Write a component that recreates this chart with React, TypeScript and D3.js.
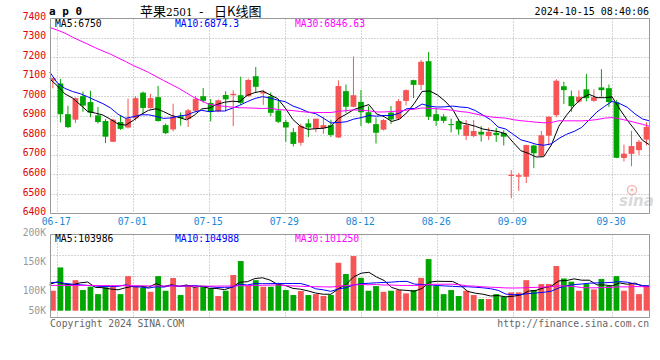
import React, { useEffect, useRef } from 'react';
import * as d3 from 'd3';

// trading days shown on the chart
const dates = [
  '06-14',
  '06-17', '06-18', '06-19', '06-20', '06-21',
  '06-24', '06-25', '06-26', '06-27', '06-28',
  '07-01', '07-02', '07-03', '07-04', '07-05',
  '07-08', '07-09', '07-10', '07-11', '07-12',
  '07-15', '07-16', '07-17', '07-18', '07-19',
  '07-22', '07-23', '07-24', '07-25', '07-26',
  '07-29', '07-30', '07-31', '08-01', '08-02',
  '08-05', '08-06', '08-07', '08-08', '08-09',
  '08-12', '08-13', '08-14', '08-15', '08-16',
  '08-19', '08-20', '08-21', '08-22', '08-23',
  '08-26', '08-27', '08-28', '08-29', '08-30',
  '09-02', '09-03', '09-04', '09-05', '09-06',
  '09-09', '09-10', '09-11', '09-12', '09-13',
  '09-18', '09-19', '09-20',
  '09-23', '09-24', '09-25', '09-26', '09-27',
  '09-30',
  '10-08', '10-09', '10-10', '10-11', '10-14',
];

const opens = [
  7080, 7065, 6908, 6880, 7000, 6970, 6902, 6873, 6767, 6868,
  6840, 6887, 7018, 6939, 6995, 6852, 6830, 6897, 6884, 6925,
  7000, 6965, 6922, 7006, 7005, 7005, 7000, 7102, 7014, 7000,
  6927, 6868, 6816, 6762, 6861, 6834, 6836, 6852, 6789, 7026,
  6946, 6971, 6918, 6857, 6829, 6916, 6885, 6976, 7082, 7058,
  7179, 6908, 6896, 6857, 6873, 6797, 6796, 6818, 6796, 6813,
  6812, 6592, 6588, 6588, 6748, 6694, 6798, 6903, 7051, 7000,
  6972, 7035, 6976, 7045, 7041, 6970, 6684, 6705, 6724, 6778,
];
const highs = [
  7095, 7088, 6951, 6994, 7024, 7028, 6945, 6883, 6885, 6900,
  6988, 6999, 7024, 7012, 7053, 6860, 6962, 6917, 6935, 7002,
  7042, 6985, 6983, 7025, 7030, 7100, 7090, 7149, 7033, 7019,
  6982, 6880, 6837, 6859, 6883, 6885, 6893, 6880, 7081, 7060,
  7203, 7031, 6948, 6891, 6883, 6950, 6985, 7035, 7084, 7186,
  7226, 6938, 6908, 6886, 6882, 6878, 6878, 6847, 6840, 6838,
  6826, 6622, 6608, 6752, 6752, 6822, 6897, 7087, 7074, 7029,
  7030, 7114, 7035, 7138, 7060, 6980, 6752, 6823, 6777, 6866,
];
const lows = [
  7040, 6866, 6837, 6863, 6920, 6893, 6860, 6760, 6765, 6828,
  6835, 6875, 6910, 6937, 6870, 6806, 6820, 6849, 6842, 6920,
  6968, 6871, 6918, 6922, 6847, 6956, 6998, 7016, 6956, 6897,
  6863, 6767, 6743, 6747, 6791, 6815, 6808, 6791, 6786, 6915,
  6944, 6847, 6860, 6758, 6825, 6858, 6880, 6953, 6990, 7031,
  6878, 6848, 6862, 6815, 6803, 6776, 6790, 6768, 6776, 6766,
  6748, 6478, 6516, 6556, 6632, 6690, 6748, 6893, 6960, 6920,
  6965, 6974, 6972, 6998, 6945, 6683, 6666, 6642, 6700, 6748,
];
const closes = [
  7092, 6908, 6842, 6990, 6952, 6916, 6868, 6793, 6880, 6833,
  6886, 6990, 6940, 6990, 6873, 6811, 6896, 6888, 6928, 6986,
  6976, 6920, 6979, 6984, 7012, 6966, 7083, 7048, 7024, 6915,
  6869, 6840, 6756, 6848, 6840, 6885, 6852, 6802, 7052, 6946,
  7005, 6918, 6864, 6813, 6878, 6881, 6975, 7031, 7058, 7176,
  6895, 6874, 6874, 6853, 6830, 6852, 6822, 6804, 6818, 6801,
  6793, 6598, 6596, 6750, 6708, 6800, 6895, 7079, 7031, 6949,
  6997, 6990, 6995, 7031, 6970, 6685, 6706, 6745, 6767, 6843,
];
const volumes = [
  95300, 135500, 103900, 113500, 96500, 102200, 89500, 101100, 102200, 89500,
  120500, 102200, 101100, 93500, 120500, 95300, 117200, 87900, 105100, 101100,
  103900, 99400, 86200, 95300, 122400, 146500, 103900, 113500, 102200, 102200,
  108000, 96500, 87900, 94800, 87900, 89500, 86200, 87900, 143500, 124100,
  155100, 117500, 95300, 103400, 93500, 95300, 96500, 90800, 96500, 117500,
  149900, 103400, 89500, 96500, 86200, 95300, 87900, 81000, 81000, 89500,
  85000, 92500, 92500, 113500, 96500, 106800, 106800, 137900, 116500, 110900,
  95300, 106800, 97600, 115500, 103400, 120500, 95300, 108000, 89500, 103400,
];

const ma5Head = [7089, 7053, 7012, 6991];
const ma10Head = [7124, 7068, 7040, 7024, 7013, 6997, 6979, 6962, 6940];
const ma30Head = [
  7352, 7338, 7323, 7302, 7284, 7266, 7248, 7231, 7215, 7196,
  7177, 7157, 7140, 7122, 7101, 7080, 7060, 7040, 7017, 6993,
  6976, 6958, 6953, 6948, 6944, 6941, 6940, 6939, 6937,
];
const volMa5Head = [106500, 110500, 106500, 105500];
const volMa10Head = [109000, 110000, 108000, 106500, 105500, 104500, 103500, 102500, 102500];
const volMa30Head = [
  104500, 104500, 104500, 104500, 104500, 104400, 104300, 104200, 104100, 104000,
  104000, 103900, 103800, 103700, 103600, 103500, 103500, 103400, 103300, 103300,
  103200, 103200, 103300, 103400, 103600, 103800, 104100, 104400, 104700,
];

const dateTicks = ['06-17', '07-01', '07-15', '07-29', '08-12', '08-26', '09-09', '09-30'];
const priceTicks = [7400, 7300, 7200, 7100, 7000, 6900, 6800, 6700, 6600, 6500, 6400];
const volumeTicks = [200000, 150000, 100000, 50000];
const volumeTickLabels = ['200K', '150K', '100K', '50K'];
const priceLegend = ['MA5:6750', 'MA10:6874.3', 'MA30:6846.63'];
const volumeLegend = ['MA5:103986', 'MA10:104988', 'MA30:101250'];

const MONO = '"DejaVu Sans Mono", monospace';
const UP = '#f65555';
const DOWN = '#00a600';
const MA_COLORS = ['#000000', '#0000ff', '#ff00ff'];

const movingAverage = (values: number[], n: number, head: number[]) =>
  values.map((_, i) => (i < n - 1 ? head[i] : (d3.mean(values.slice(i - n + 1, i + 1)) as number)));

const KLineChart = () => {
  const ref = useRef<SVGSVGElement | null>(null);

  useEffect(() => {
    document.body.style.margin = '0';
    const svg = d3.select(ref.current);
    svg.selectAll('*').remove();

    const left = 50.5;
    const right = 649.5;
    const priceTop = 18.5;
    const priceBottom = 213.5;
    const volTop = 234.5;
    const volBottom = 317.5;

    const x = d3.scaleBand<string>().domain(dates).range([50, 649.4]).paddingInner(0.23).paddingOuter(0);
    const bw = x.bandwidth();
    // sina spaces its date grid over n-1 steps, a bit wider than the candles
    const gridX = d3.scaleLinear().domain([0, dates.length - 1]).range([49.7, 650.1]);
    const priceY = d3.scaleLinear().domain([6400, 7400]).range([213.5, 18]);
    const volY = d3.scaleLinear().domain([60900, 192600]).range([310.7, 234.3]);

    const colorOf = (i: number) => (closes[i] >= opens[i] ? UP : DOWN);

    // header
    svg.append('text').attr('x', 49).attr('y', 15)
      .style('font-family', MONO).style('font-size', '11px').style('font-weight', 'bold')
      .text('a p 0');
    const title = svg.append('text').attr('y', 15.5)
      .style('font-family', '"Noto Sans CJK SC", sans-serif').style('font-size', '13px');
    title.append('tspan').attr('x', 140).text('苹果');
    title.append('tspan').attr('x', 166).style('font-family', '"DejaVu Serif", serif').style('font-size', '10.5px').text('2501');
    title.append('tspan').attr('x', 199).text('-');
    title.append('tspan').attr('x', 214).text('日K线图');
    svg.append('text').attr('x', 649).attr('y', 15).attr('text-anchor', 'end')
      .style('font-family', MONO).style('font-size', '10px')
      .text('2024-10-15 08:40:06');

    // price panel grid
    const price = svg.append('g');
    price.selectAll('.hgrid')
      .data(priceTicks.slice(1, -1))
      .enter().append('line')
      .attr('x1', left).attr('x2', right)
      .attr('y1', (d) => Math.round(priceY(d)) + 0.5)
      .attr('y2', (d) => Math.round(priceY(d)) + 0.5)
      .attr('stroke', '#aaa').attr('stroke-dasharray', '1,2');
    price.selectAll('.vgrid')
      .data(dateTicks)
      .enter().append('line')
      .attr('x1', (d) => Math.round(gridX(dates.indexOf(d))) + 0.5)
      .attr('x2', (d) => Math.round(gridX(dates.indexOf(d))) + 0.5)
      .attr('y1', priceTop).attr('y2', priceBottom)
      .attr('stroke', '#aaa').attr('stroke-dasharray', '1,2');

    // sina watermark
    const mark = svg.append('g').attr('opacity', 0.5);
    mark.append('circle').attr('cx', 632).attr('cy', 190).attr('r', 4.5)
      .attr('fill', 'none').attr('stroke', '#e77').attr('stroke-width', 1.5);
    mark.append('circle').attr('cx', 632).attr('cy', 190).attr('r', 1.6).attr('fill', '#e77');
    mark.append('text').attr('x', 619).attr('y', 206)
      .style('font-family', '"DejaVu Sans", sans-serif').style('font-size', '15px')
      .style('font-style', 'italic').style('font-weight', 'bold').attr('fill', '#b5b5b5')
      .text('sina');

    // candles
    const candles = price.selectAll('.candle')
      .data(dates)
      .enter().append('g');
    candles.append('line')
      .attr('x1', (d) => (x(d) as number) + bw / 2)
      .attr('x2', (d) => (x(d) as number) + bw / 2)
      .attr('y1', (d, i) => priceY(highs[i]))
      .attr('y2', (d, i) => priceY(lows[i]))
      .attr('stroke', (d, i) => colorOf(i)).attr('stroke-width', 1);
    candles.append('rect')
      .attr('x', (d) => x(d) as number)
      .attr('width', bw)
      .attr('y', (d, i) => priceY(Math.max(opens[i], closes[i])))
      .attr('height', (d, i) => Math.max(1, Math.abs(priceY(opens[i]) - priceY(closes[i]))))
      .attr('fill', (d, i) => colorOf(i));

    // moving averages
    const priceMas = [movingAverage(closes, 5, ma5Head), movingAverage(closes, 10, ma10Head), movingAverage(closes, 30, ma30Head)];
    const priceLine = d3.line<number>().x((d, i) => gridX(i)).y((d) => priceY(d));
    priceMas.forEach((m, j) => {
      price.append('path').datum(m).attr('d', priceLine)
        .attr('fill', 'none').attr('stroke', MA_COLORS[j]).attr('stroke-width', 1);
    });

    // frame
    const frame = (top: number, bottom: number) => {
      svg.append('line').attr('x1', left).attr('x2', right).attr('y1', top).attr('y2', top).attr('stroke', '#999');
      svg.append('line').attr('x1', left).attr('x2', right).attr('y1', bottom).attr('y2', bottom).attr('stroke', '#999');
      svg.append('line').attr('x1', left).attr('x2', left).attr('y1', top).attr('y2', bottom).attr('stroke', '#999');
      svg.append('line').attr('x1', right).attr('x2', right).attr('y1', top).attr('y2', bottom).attr('stroke', '#999');
    };
    frame(priceTop, priceBottom);

    // legends
    const legendX = [55, 175, 295];
    priceLegend.forEach((t, j) => {
      svg.append('text').attr('x', legendX[j]).attr('y', 27.3)
        .style('font-family', MONO).style('font-size', '9.7px').attr('fill', MA_COLORS[j]).text(t);
    });

    // axis labels
    svg.selectAll('.plabel')
      .data(priceTicks)
      .enter().append('text')
      .attr('x', 46).attr('y', (d) => priceY(d) + 1.6).attr('text-anchor', 'end')
      .style('font-family', MONO).style('font-size', '9.7px').attr('fill', '#e00000')
      .text((d) => d);
    svg.selectAll('.dlabel')
      .data(dateTicks)
      .enter().append('text')
      .attr('x', (d) => gridX(dates.indexOf(d)) - 1).attr('y', 225.3).attr('text-anchor', 'middle')
      .style('font-family', MONO).style('font-size', '9.7px').attr('fill', '#1a88d8')
      .text((d) => d);

    // volume panel
    const vol = svg.append('g');
    vol.selectAll('.vh')
      .data([1, 2, 3])
      .enter().append('line')
      .attr('x1', left).attr('x2', right)
      .attr('y1', (d) => Math.round(volTop + (d * (volBottom - volTop)) / 4) + 0.5)
      .attr('y2', (d) => Math.round(volTop + (d * (volBottom - volTop)) / 4) + 0.5)
      .attr('stroke', '#aaa').attr('stroke-dasharray', '1,2');
    vol.selectAll('.vv')
      .data(dateTicks)
      .enter().append('line')
      .attr('x1', (d) => Math.round(gridX(dates.indexOf(d))) + 0.5)
      .attr('x2', (d) => Math.round(gridX(dates.indexOf(d))) + 0.5)
      .attr('y1', volTop).attr('y2', volBottom)
      .attr('stroke', '#aaa').attr('stroke-dasharray', '1,2');
    vol.selectAll('.bar')
      .data(volumes)
      .enter().append('rect')
      .attr('x', (d, i) => x(dates[i]) as number)
      .attr('width', bw)
      .attr('y', (d) => volY(d))
      .attr('height', (d) => volY(60900) - volY(d))
      .attr('fill', (d, i) => colorOf(i));

    const volMas = [movingAverage(volumes, 5, volMa5Head), movingAverage(volumes, 10, volMa10Head), movingAverage(volumes, 30, volMa30Head)];
    const volLine = d3.line<number>().x((d, i) => gridX(i)).y((d) => volY(d));
    volMas.forEach((m, j) => {
      vol.append('path').datum(m).attr('d', volLine)
        .attr('fill', 'none').attr('stroke', MA_COLORS[j]).attr('stroke-width', 1);
    });
    frame(volTop, volBottom);

    volumeLegend.forEach((t, j) => {
      svg.append('text').attr('x', legendX[j]).attr('y', 242)
        .style('font-family', MONO).style('font-size', '9.7px').attr('fill', MA_COLORS[j]).text(t);
    });
    svg.selectAll('.vlabel')
      .data(volumeTicks)
      .enter().append('text')
      .attr('x', 46).attr('y', (d) => Math.min(volY(d), 308) + 5.6).attr('text-anchor', 'end')
      .style('font-family', MONO).style('font-size', '9.7px').attr('fill', '#999')
      .text((d, i) => volumeTickLabels[i]);

    // footer
    svg.append('text').attr('x', 50).attr('y', 326.5)
      .style('font-family', MONO).style('font-size', '9.7px').attr('fill', '#666')
      .text('Copyright 2024 SINA.COM');
    svg.append('text').attr('x', 649).attr('y', 326.5).attr('text-anchor', 'end')
      .style('font-family', MONO).style('font-size', '9.7px').attr('fill', '#666')
      .text('http://finance.sina.com.cn');
  }, []);

  return <svg ref={ref} width={660} height={360} style={{ display: 'block', background: '#fff' }} />;
};

export default function App() {
  return <KLineChart />;
}
